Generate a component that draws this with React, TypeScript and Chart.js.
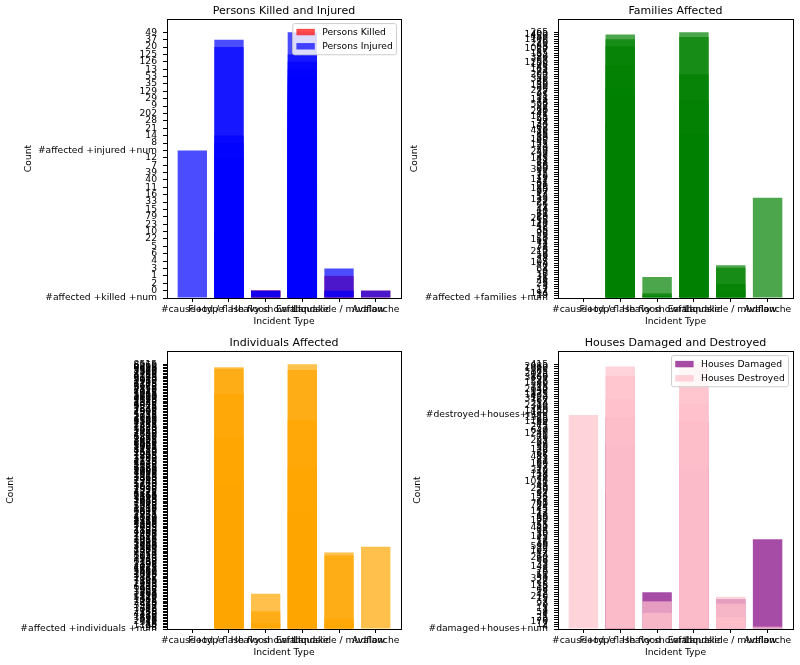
import { useEffect, useRef } from "react";
import { Chart, registerables } from "chart.js";

Chart.register(...registerables);

const FONT = "DejaVu Sans";
const TEXT = 9.2;

const incidentTypes = [
  "#cause+type",
  "Flood / flash flood",
  "Heavy snowfall",
  "Earthquake",
  "Landslide / mudflow",
  "Avalanche",
];

// --- Persons killed and injured (values are strings in the source, so the axis is categorical)
const casualtyTicks = [
  "#affected +killed +num", "0", "2", "1", "3", "4", "6", "5", "22", "10", "23", "79", "15", "33", "16",
  "11", "40", "39", "7", "12", "#affected +injured +num", "8", "14", "21", "28", "202", "9", "29", "129",
  "35", "53", "13", "126", "125", "20", "37", "49",
];
const casualtyTypes = [
  "#cause+type",
  "Flood / flash flood", "Flood / flash flood", "Flood / flash flood", "Flood / flash flood",
  "Flood / flash flood", "Flood / flash flood", "Flood / flash flood", "Flood / flash flood",
  "Earthquake", "Earthquake", "Earthquake", "Earthquake", "Earthquake", "Earthquake",
  "Earthquake", "Earthquake", "Earthquake", "Earthquake", "Earthquake", "Earthquake",
  "Heavy snowfall", "Heavy snowfall",
  "Landslide / mudflow", "Landslide / mudflow",
  "Avalanche",
];
const killed = [
  "#affected +killed +num",
  "2", "1", "3", "4", "6", "5", "22", "10",
  "23", "79", "15", "33", "16", "11", "40", "39", "7", "12", "0", "2",
  "0", "0",
  "1", "0",
  "0",
];
const injured = [
  "#affected +injured +num",
  "37", "20", "14", "8", "12", "0", "2", "1",
  "49", "125", "126", "13", "53", "35", "129", "29", "9", "202", "28", "21",
  "0", "0",
  "3", "0",
  "0",
];

// --- Families affected
const familyTicks = [
  "#affected +families +num",
  "19", "194", "12", "7", "3", "25", "48", "5", "31", "16",
  "9", "64", "2", "40", "105", "27", "8", "56", "13", "210",
  "4", "38", "72", "11", "150", "23", "6", "90", "35", "18",
  "47", "120", "15", "260", "29", "81", "10", "44", "1", "66",
  "22", "135", "53", "14", "97", "30", "185", "20", "61", "42",
  "112", "26", "75", "17", "300", "50", "36", "88", "21", "145",
  "58", "33", "240", "70", "24", "125", "45", "160", "39", "85",
  "28", "410", "62", "140", "34", "99", "55", "175", "41", "230",
  "68", "32", "500", "78", "115", "51", "95", "37", "275", "60",
  "130", "46", "86", "350", "52", "200", "74", "165", "43", "108",
  "1250", "67", "380", "92", "155", "57", "1020", "83", "220", "76",
  "1100", "450", "1400", "265",
];
const familyTypes = [
  "#cause+type",
  "Flood / flash flood", "Flood / flash flood", "Flood / flash flood",
  "Flood / flash flood", "Flood / flash flood", "Flood / flash flood",
  "Heavy snowfall", "Heavy snowfall", "Heavy snowfall",
  "Earthquake", "Earthquake", "Earthquake", "Earthquake", "Earthquake",
  "Landslide / mudflow", "Landslide / mudflow", "Landslide / mudflow", "Landslide / mudflow",
  "Avalanche",
];
const families = [
  "#affected +families +num",
  "1400", "1100", "83", "108", "60", "34",
  "31", "194", "19",
  "265", "450", "200", "115", "85",
  "40", "2", "25", "12",
  "53",
];

// --- Individuals affected
const individualTicks = [
  "#affected +individuals +num",
  "98", "1120", "45", "312", "2040", "76", "530", "1865", "230", "4410",
  "155", "2780", "610", "1342", "87", "3950", "420", "2215", "1045", "362",
  "5120", "718", "1590", "264", "3305", "905", "1978", "6240", "483", "1233",
  "2650", "389", "7105", "1487", "842", "3570", "1096", "2410", "5580", "657",
  "1735", "4025", "298", "2895", "1168", "6730", "935", "3140", "1624", "8050",
  "774", "2310", "4865", "1399", "590", "3720", "2068", "1256", "5395", "880",
  "3015", "1512", "7420", "2487", "966", "4190", "1833", "2705", "639", "5860",
  "1302", "3468", "2156", "8310", "1049", "4580", "751", "2935", "1677", "6095",
  "3210", "1415", "5045", "2580", "995", "7680", "1930", "3845", "1190", "2360",
  "6415", "812", "4725", "1555", "2990", "1075", "3630", "5210", "1780", "2245",
  "7950", "1460", "3385", "2820", "1015", "4960", "1705", "3090", "6580", "2175",
  "1385", "5670", "2530", "4275", "1140", "3760", "1895", "7265", "2640", "1530",
  "4480", "3175", "1065", "5925", "2095", "8520", "1645", "3905", "2455", "6890",
  "1215", "4640", "2760", "1955", "5470", "3330", "1425", "7815", "2285", "4105",
  "1580", "6355", "3060", "2135", "5735", "1815", "4395", "2905", "7540", "1275",
  "3525", "6045", "2345", "4830", "1695", "9120", "2610", "3980", "5265", "1915",
  "7045", "2720", "4555", "3245", "6670", "1745", "8185", "2960", "5010", "3690",
  "6135", "4315", "8760", "2505", "7370", "5540", "9480", "8655", "6960", "8515",
];
const individualTypes = [
  "#cause+type",
  "Flood / flash flood", "Flood / flash flood", "Flood / flash flood", "Flood / flash flood", "Flood / flash flood",
  "Heavy snowfall", "Heavy snowfall", "Heavy snowfall",
  "Earthquake", "Earthquake", "Earthquake", "Earthquake", "Earthquake",
  "Landslide / mudflow", "Landslide / mudflow", "Landslide / mudflow", "Landslide / mudflow",
  "Avalanche",
];
const individuals = [
  "#affected +individuals +num",
  "8655", "9480", "1915", "6890", "2245",
  "264", "2780", "312",
  "8515", "5540", "6355", "2175", "6095",
  "2310", "8050", "530", "45",
  "3720",
];

// --- Houses damaged and destroyed
const houseTicks = [
  "#damaged+houses+num",
  "4", "12", "170", "6", "25", "1", "58", "3", "11", "0",
  "93", "7", "15", "210", "42", "2", "68", "19", "135", "8",
  "27", "350", "51", "10", "76", "5", "143", "33", "9", "88",
  "260", "14", "47", "105", "22", "590", "36", "18", "72", "125",
  "30", "16", "84", "440", "55", "21", "190", "39", "66", "13",
  "112", "45", "24", "780", "61", "28", "155", "34", "97", "20",
  "230", "49", "31", "1020", "74", "26", "118", "43", "310", "57",
  "35", "160", "81", "23", "485", "62", "29", "132", "50", "99",
  "37", "205", "70", "41", "1240", "640", "53", "275", "44", "1180",
  "86", "1325",
  "#destroyed+houses+num",
  "180", "1450", "96", "2310", "254", "67", "3120", "402", "1875", "138",
  "2640", "315", "89", "1530", "227", "3860", "146", "2075", "365", "1690",
  "2980", "415",
];
const damagedTypes = [
  "#cause+type",
  "Flood / flash flood", "Flood / flash flood", "Flood / flash flood",
  "Earthquake", "Earthquake",
  "Heavy snowfall",
  "Landslide / mudflow",
  "Avalanche",
];
const damaged = ["#damaged+houses+num", "1325", "99", "20", "1180", "57", "2", "15", "72"];
const destroyedTypes = [
  "#cause+type",
  "Flood / flash flood", "Flood / flash flood", "Flood / flash flood",
  "Earthquake", "Earthquake", "Earthquake",
  "Heavy snowfall", "Heavy snowfall",
  "Landslide / mudflow", "Landslide / mudflow", "Landslide / mudflow",
  "Avalanche",
];
const destroyed = [
  "#destroyed+houses+num",
  "2980", "146", "3120",
  "415", "315", "254",
  "7", "58",
  "210", "93", "25",
  "4",
];

type Box = { left: number; top: number; width: number; height: number };
type Plot = { left: number; top: number; right: number; bottom: number };
type Series = { label: string; color: string; order: number; types: string[]; values: string[] };

function toPoints(types: string[], values: string[], ticks: string[]) {
  return types.map((t, i) => ({ x: incidentTypes.indexOf(t), y: ticks.indexOf(values[i]) }));
}

// matplotlib look: full box round the axes, legend inside the upper right corner
const mplPlugin = {
  id: "mpl",
  afterDraw(chart: any, _args: unknown, opts: { legend?: boolean }) {
    const { ctx, chartArea: a } = chart;
    ctx.save();
    ctx.strokeStyle = "#000";
    ctx.lineWidth = 1;
    ctx.strokeRect(Math.round(a.left) + 0.5, Math.round(a.top) + 0.5, Math.round(a.right - a.left), Math.round(a.bottom - a.top));

    if (opts && opts.legend) {
      const items = chart.data.datasets;
      ctx.font = `${TEXT}px "${FONT}"`;
      const pad = 0.4 * TEXT;
      const handleW = 2 * TEXT;
      const handleH = 0.7 * TEXT;
      const textPad = 0.8 * TEXT;
      const rowH = 9.6;
      const gap = 0.5 * TEXT;
      const textW = Math.max(...items.map((d: any) => ctx.measureText(d.label).width));
      const w = 2 * pad + handleW + textPad + textW;
      const h = 2 * pad + items.length * rowH + (items.length - 1) * gap;
      const x0 = a.right - 0.5 * TEXT - w;
      const y0 = a.top + 0.5 * TEXT;
      ctx.beginPath();
      ctx.roundRect(x0, y0, w, h, 2);
      ctx.fillStyle = "rgba(255,255,255,0.8)";
      ctx.fill();
      ctx.strokeStyle = "#cccccc";
      ctx.stroke();
      items.forEach((d: any, i: number) => {
        const cy = y0 + pad + i * (rowH + gap) + rowH / 2;
        ctx.fillStyle = d.backgroundColor;
        ctx.fillRect(x0 + pad, cy - handleH / 2, handleW, handleH);
        ctx.fillStyle = "#000";
        ctx.textAlign = "left";
        ctx.textBaseline = "middle";
        ctx.fillText(d.label, x0 + pad + handleW + textPad, cy + 0.5);
      });
    }
    ctx.restore();
  },
};

function Panel({
  box,
  plot,
  countX,
  title,
  ticks,
  series,
  legend = false,
}: {
  box: Box;
  plot: Plot;
  countX: number;
  title: string;
  ticks: string[];
  series: Series[];
  legend?: boolean;
}) {
  const canvasRef = useRef<HTMLCanvasElement | null>(null);
  const chartRef = useRef<Chart | null>(null);

  useEffect(() => {
    if (!canvasRef.current) {
      return;
    }
    if (chartRef.current) {
      chartRef.current.destroy();
    }

    const font = { family: FONT, size: TEXT };
    const boxBottom = box.top + box.height;

    chartRef.current = new Chart(canvasRef.current, {
      type: "bar",
      data: {
        datasets: series.map((s) => ({
          label: s.label,
          data: toPoints(s.types, s.values, ticks),
          backgroundColor: s.color,
          borderWidth: 0,
          grouped: false,
          barPercentage: 0.8,
          categoryPercentage: 1,
          order: s.order,
        })),
      },
      options: {
        animation: false,
        responsive: true,
        maintainAspectRatio: false,
        layout: {
          padding: { left: 0, top: 0, bottom: 0, right: box.left + box.width - plot.right },
        },
        plugins: {
          legend: { display: false },
          tooltip: { enabled: false },
          title: {
            display: true,
            text: title,
            fullSize: false,
            color: "#000",
            font: { family: FONT, size: 11, weight: "normal", lineHeight: 1.2 },
            padding: { top: plot.top - box.top - 14.2, bottom: 1 },
          },
          mpl: { legend },
        } as any,
        scales: {
          x: {
            type: "linear",
            min: -0.69,
            max: 5.69,
            offset: false,
            bounds: "data",
            afterBuildTicks: (s: any) => {
              s.ticks = incidentTypes.map((_, i) => ({ value: i }));
            },
            afterFit: (s: any) => {
              s.height = boxBottom - plot.bottom;
            },
            grid: { offset: false, drawOnChartArea: false, drawTicks: true, tickLength: 4, color: "#000", lineWidth: 1 },
            border: { display: false },
            ticks: {
              autoSkip: false,
              maxRotation: 0,
              minRotation: 0,
              padding: 2.5,
              color: "#000",
              font,
              callback: (v: any) => incidentTypes[Number(v)] ?? "",
            },
            title: {
              display: true,
              text: "Incident Type",
              color: "#000",
              font,
              padding: { top: 0, bottom: boxBottom - plot.bottom - 24 - 5.52 },
            },
          },
          y: {
            type: "linear",
            min: 0,
            max: (ticks.length - 1) * 1.05,
            bounds: "data",
            afterBuildTicks: (s: any) => {
              s.ticks = ticks.map((_, i) => ({ value: i }));
            },
            afterFit: (s: any) => {
              s.width = plot.left - box.left;
            },
            grid: { drawOnChartArea: false, drawTicks: true, tickLength: 4, color: "#000", lineWidth: 1 },
            border: { display: false },
            ticks: {
              autoSkip: false,
              padding: 6,
              color: "#000",
              font,
              callback: (v: any) => ticks[Number(v)] ?? "",
            },
            title: {
              display: true,
              text: "Count",
              color: "#000",
              font,
              padding: { top: countX - box.left - 5.52, bottom: 0 },
            },
          },
        },
      },
      plugins: [mplPlugin as any],
    });

    return () => {
      chartRef.current?.destroy();
      chartRef.current = null;
    };
  }, [box, plot, countX, title, ticks, series, legend]);

  return (
    <div
      style={{
        position: "absolute",
        left: box.left,
        top: box.top,
        width: box.width,
        height: box.height,
      }}
    >
      <canvas ref={canvasRef} />
    </div>
  );
}

const casualtySeries: Series[] = [
  { label: "Persons Killed", color: "rgba(255,0,0,0.7)", order: 2, types: casualtyTypes, values: killed },
  { label: "Persons Injured", color: "rgba(0,0,255,0.7)", order: 1, types: casualtyTypes, values: injured },
];
const familySeries: Series[] = [
  { label: "Families Affected", color: "rgba(0,128,0,0.7)", order: 1, types: familyTypes, values: families },
];
const individualSeries: Series[] = [
  { label: "Individuals Affected", color: "rgba(255,165,0,0.7)", order: 1, types: individualTypes, values: individuals },
];
const houseSeries: Series[] = [
  { label: "Houses Damaged", color: "rgba(128,0,128,0.7)", order: 2, types: damagedTypes, values: damaged },
  { label: "Houses Destroyed", color: "rgba(255,192,203,0.7)", order: 1, types: destroyedTypes, values: destroyed },
];

const boxes = {
  tl: { left: 0, top: 0, width: 405, height: 332 },
  tr: { left: 405, top: 0, width: 395, height: 332 },
  bl: { left: 0, top: 332, width: 405, height: 333 },
  br: { left: 405, top: 332, width: 395, height: 333 },
};
const plots = {
  tl: { left: 167, top: 19, right: 401, bottom: 298 },
  tr: { left: 558, top: 19, right: 793, bottom: 298 },
  bl: { left: 167, top: 351, right: 401, bottom: 629 },
  br: { left: 558, top: 351, right: 793, bottom: 629 },
};

export default function App() {
  return (
    <div
      style={{
        position: "absolute",
        left: 0,
        top: 0,
        width: 800,
        height: 665,
        background: "#fff",
      }}
    >
      <Panel box={boxes.tl} plot={plots.tl} countX={29} title="Persons Killed and Injured" ticks={casualtyTicks} series={casualtySeries} legend />
      <Panel box={boxes.tr} plot={plots.tr} countX={415} title="Families Affected" ticks={familyTicks} series={familySeries} />
      <Panel box={boxes.bl} plot={plots.bl} countX={11} title="Individuals Affected" ticks={individualTicks} series={individualSeries} />
      <Panel box={boxes.br} plot={plots.br} countX={418} title="Houses Damaged and Destroyed" ticks={houseTicks} series={houseSeries} legend />
    </div>
  );
}
